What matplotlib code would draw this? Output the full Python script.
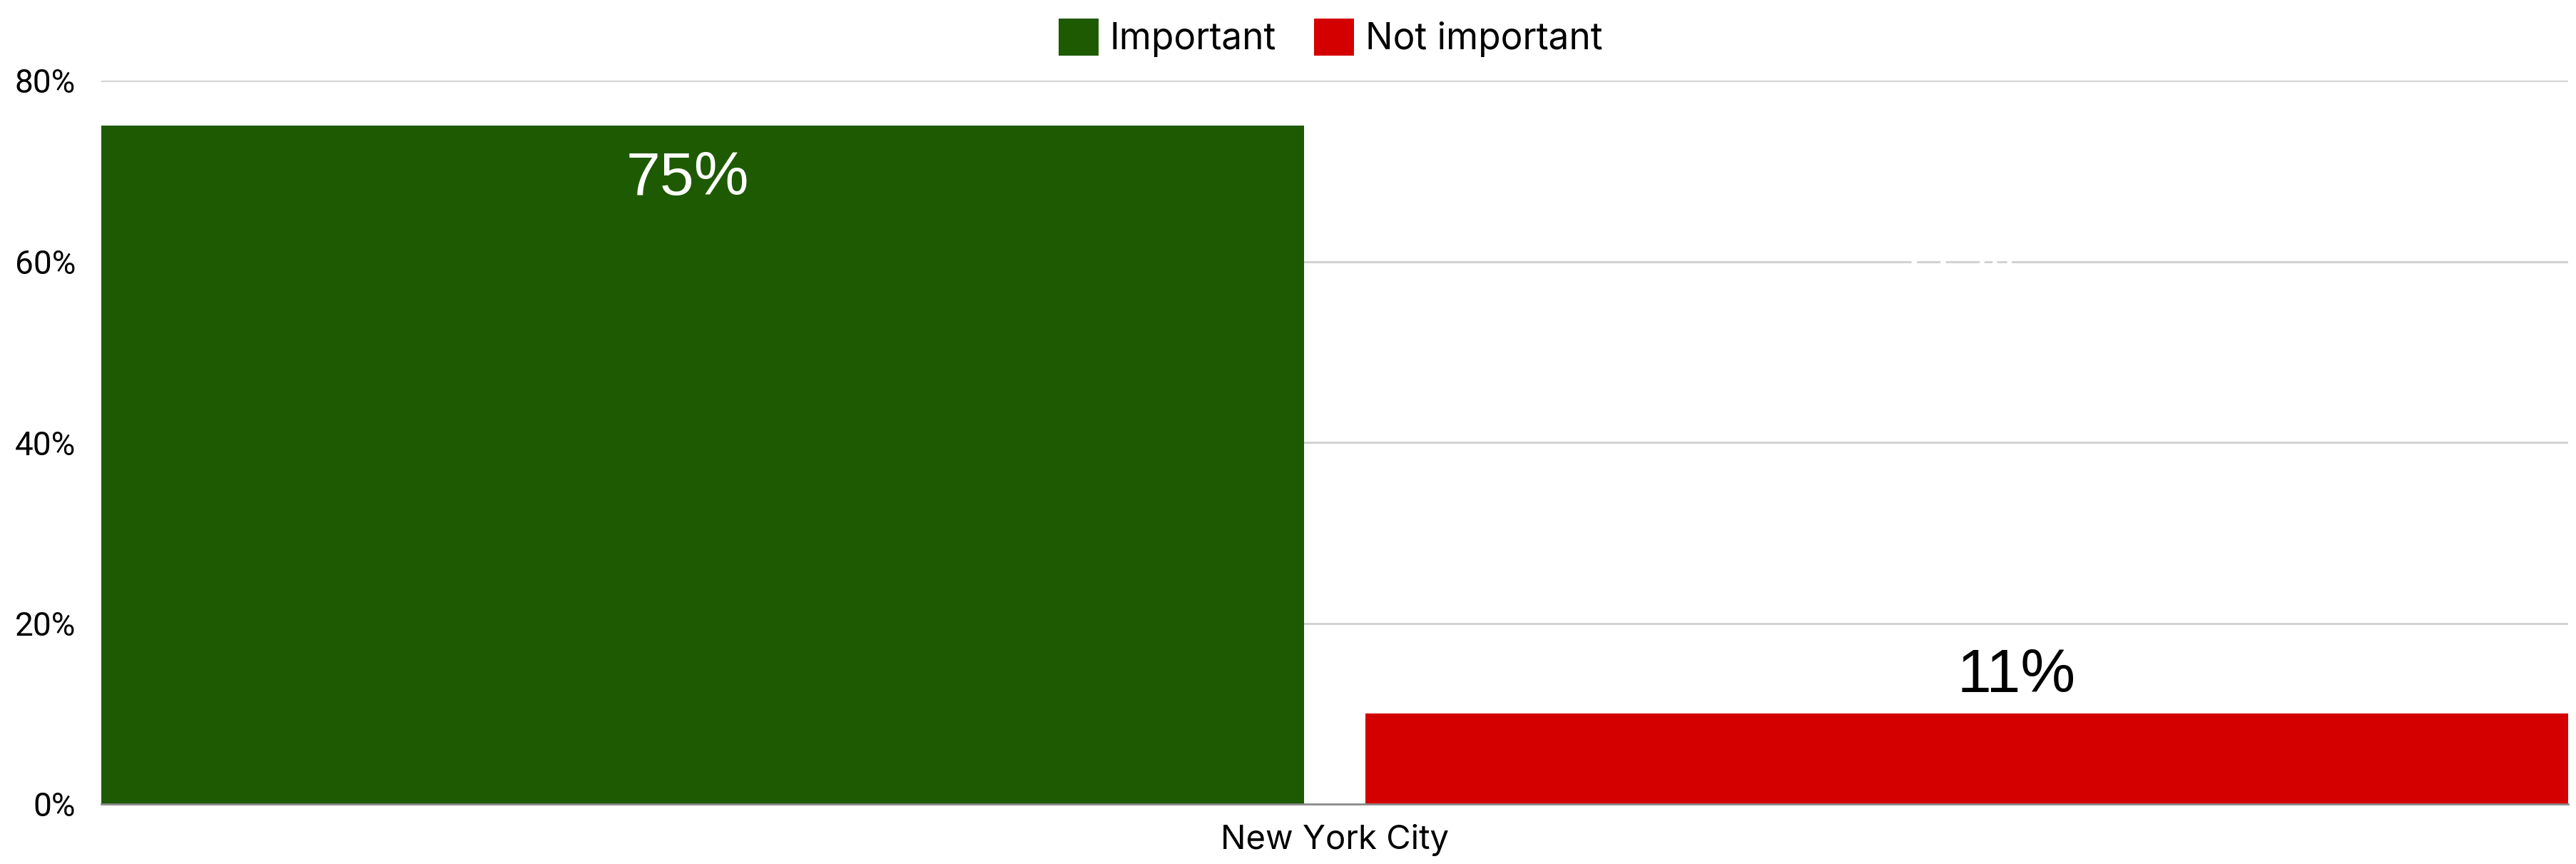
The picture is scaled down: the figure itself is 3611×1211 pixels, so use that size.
import matplotlib
matplotlib.use("Agg")
import matplotlib.pyplot as plt
from matplotlib.ticker import FuncFormatter

categories = ["New York City"]
series_names = ["Important", "Not important"]
series_values = [[75], [10]]
series_labels = [["75%"], ["11%"]]
series_colors = ["#1e5a02", "#d40000"]
y_ticks = [0, 20, 40, 60, 80]

fig = plt.figure(figsize=(36.11, 12.11), dpi=100)
ax = fig.add_axes([142 / 3611, 84 / 1211, 3458 / 3611, 1014 / 1211])

bar_w = 0.4875
offsets = [-0.25625, 0.25625]
bars = []
for i, (name, vals) in enumerate(zip(series_names, series_values)):
    xs = [c + offsets[i] for c in range(len(categories))]
    b = ax.bar(xs, vals, width=bar_w, color=series_colors[i], label=name, zorder=3)
    bars.append(b)

# data labels
for rect, lab in zip(bars[0], series_labels[0]):
    ax.annotate(lab, (rect.get_x() + rect.get_width() / 2, rect.get_height()),
                xytext=(-15, -25), textcoords="offset points", ha="center", va="top",
                color="white", fontsize=62, family="Liberation Sans", zorder=5)
for rect, lab in zip(bars[1], series_labels[1]):
    ax.annotate(lab, (rect.get_x() + rect.get_width() / 2, rect.get_height()),
                xytext=(50, 9), textcoords="offset points", ha="center", va="bottom",
                color="black", fontsize=62, family="Liberation Sans", zorder=5)
    # hidden white label that cuts the 60% gridline in the reference
    ax.annotate(lab, (rect.get_x() + rect.get_width() / 2, 60),
                xytext=(-12, 0), textcoords="offset points", ha="center", va="center",
                color="white", fontsize=62, family="Liberation Sans", zorder=4)

ax.set_xlim(-0.5, 0.5)
ax.set_ylim(0, 80)
ax.set_yticks(y_ticks)
ax.yaxis.set_major_formatter(FuncFormatter(lambda v, p: f"{int(v)}%"))
ax.set_xticks(range(len(categories)))
ax.set_xticklabels(categories)

for lab in ax.get_yticklabels():
    lab.set_fontfamily("Roboto")
    lab.set_fontsize(33)
for lab in ax.get_xticklabels():
    lab.set_fontfamily("Inter")
    lab.set_fontsize(34)

ax.tick_params(axis="y", length=0, pad=26)
ax.tick_params(axis="x", length=0, pad=20)
ax.grid(axis="y", color="#cfcfcf", linewidth=2, zorder=0)
ax.set_axisbelow(True)
for s in ["top", "right", "left"]:
    ax.spines[s].set_visible(False)
ax.spines["bottom"].set_color("#8a8a8a")
ax.spines["bottom"].set_linewidth(2)
ax.spines["bottom"].set_zorder(4)

leg = fig.legend(loc="center", bbox_to_anchor=(1865 / 3611, 1 - 53 / 1211),
                 ncol=2, frameon=False, prop={"family": "Inter", "size": 37},
                 handlelength=1.09, handleheight=1.17, handletextpad=0.31,
                 columnspacing=1.03)

fig.savefig("out.png", dpi=100, facecolor="white")
